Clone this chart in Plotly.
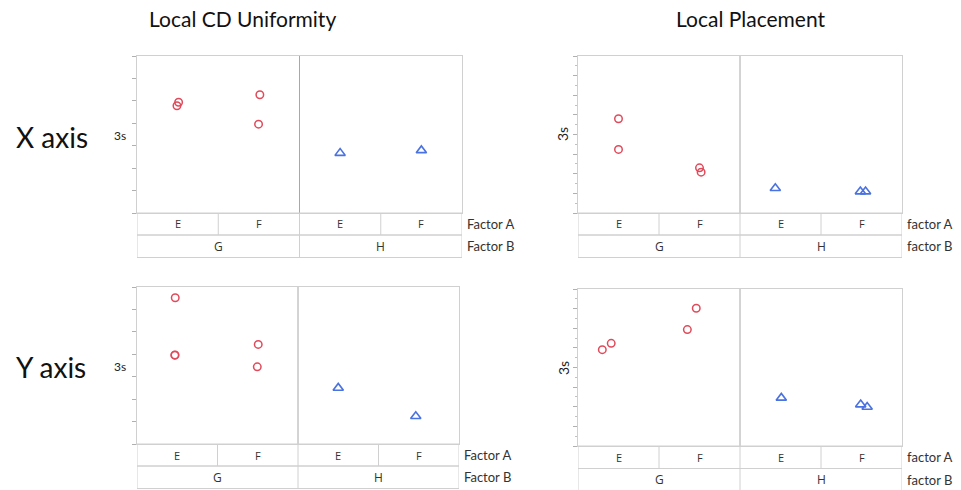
import plotly.graph_objects as go

# ---------------- data ----------------
factor_a_levels = ["E", "F"]
factor_b_levels = ["G", "H"]

# Local CD Uniformity, X axis
cdu_x_a = ["E", "E", "F", "F", "E", "F"]
cdu_x_b = ["G", "G", "G", "G", "H", "H"]
cdu_x_3s = [4.78, 4.94, 5.27, 3.96, 2.67, 2.79]

# Local CD Uniformity, Y axis
cdu_y_a = ["E", "E", "E", "F", "F", "E", "F"]
cdu_y_b = ["G", "G", "G", "G", "G", "H", "H"]
cdu_y_3s = [6.52, 3.96, 3.97, 4.44, 3.44, 2.50, 1.24]

# Local Placement, X axis
lp_x_a = ["E", "E", "F", "F", "E", "F", "F"]
lp_x_b = ["G", "G", "G", "G", "H", "H", "H"]
lp_x_3s = [4.80, 3.24, 2.30, 2.08, 1.26, 1.09, 1.09]

# Local Placement, Y axis
lp_y_a = ["E", "E", "F", "F", "E", "F", "F"]
lp_y_b = ["G", "G", "G", "G", "H", "H", "H"]
lp_y_3s = [4.91, 5.23, 5.93, 7.02, 2.45, 2.11, 1.99]

col_titles = ["Local CD Uniformity", "Local Placement"]
row_titles = ["X axis", "Y axis"]

# ---------------- layout helpers ----------------
W, H = 961, 490


def px(x):
    return x / W


def py(y):
    return 1 - y / H


# small horizontal jitter so coincident points stay visible
JITTER = {
    "cdu_x": [-0.008, 0.012, 0.012, -0.004, 0.0, 0.0],
    "cdu_y": [-0.025, -0.03, -0.028, 0.006, -0.006, 0.0, -0.037],
    "lp_x": [0.0, 0.0, 0.0, 0.02, -0.064, -0.014, 0.05],
    "lp_y": [-0.2, -0.09, -0.15, -0.04, 0.01, -0.01, 0.07],
}

# panel geometry in pixels: left, right, top, plot bottom, row A bottom, row B bottom
panels = [
    dict(key="cdu_x", a=cdu_x_a, b=cdu_x_b, v=cdu_x_3s, box=(137, 462, 56, 213, 235, 257.5),
         ymax=7, minor=False, lab_a="Factor A", lab_b="Factor B", ylab=(120, 135, False)),
    dict(key="lp_x", a=lp_x_a, b=lp_x_b, v=lp_x_3s, box=(578, 902, 56, 213, 235, 257.5),
         ymax=8, minor=True, lab_a="factor A", lab_b="factor B", ylab=(563, 134, True)),
    dict(key="cdu_y", a=cdu_y_a, b=cdu_y_b, v=cdu_y_3s, box=(137, 459, 287, 444, 466, 488.5),
         ymax=7, minor=False, lab_a="Factor A", lab_b="Factor B", ylab=(120, 366, False)),
    dict(key="lp_y", a=lp_y_a, b=lp_y_b, v=lp_y_3s, box=(578, 902, 289, 446, 468.5, 491),
         ymax=8, minor=True, lab_a="factor A", lab_b="factor B", ylab=(563, 368, True)),
]

FRAME = "#d0d0d0"
DIVIDER = "#a8a8a8"
RED = "#e04a5a"
BLUE = "#4a72e0"
FONT = "Lato"
LABEL_FONT = "Open Sans"

fig = go.Figure()
layout = dict(
    width=W, height=H,
    margin=dict(l=0, r=0, t=0, b=0),
    paper_bgcolor="white", plot_bgcolor="white",
    showlegend=False,
)
shapes, annotations = [], []


def label(text, xref, x, y, size, family=LABEL_FONT, color="#222222", xanchor="center", angle=0):
    annotations.append(dict(text=text, xref=xref, yref="paper", x=x, y=y,
                            xanchor=xanchor, yanchor="middle", showarrow=False, textangle=angle,
                            font=dict(family=family, size=size, color=color)))


for i, p in enumerate(panels, start=1):
    xa = "x" if i == 1 else f"x{i}"
    ya = "y" if i == 1 else f"y{i}"
    left, right, top, pb, ra, rb = p["box"]

    # place each point in its factor cell
    xs_g, ys_g, xs_h, ys_h = [], [], [], []
    for k, (a, b, v) in enumerate(zip(p["a"], p["b"], p["v"])):
        x = factor_b_levels.index(b) * 2 + factor_a_levels.index(a) + 0.5 + JITTER[p["key"]][k]
        if b == "G":
            xs_g.append(x)
            ys_g.append(v)
        else:
            xs_h.append(x)
            ys_h.append(v)

    fig.add_trace(go.Scatter(
        x=xs_g, y=ys_g, mode="markers", xaxis=xa, yaxis=ya,
        marker=dict(symbol="circle-open", size=7.5, color=RED, line=dict(width=1.5, color=RED)),
    ))
    fig.add_trace(go.Scatter(
        x=xs_h, y=ys_h, mode="markers", xaxis=xa, yaxis=ya,
        marker=dict(symbol="triangle-up-open", size=9, color=BLUE, line=dict(width=1.6, color=BLUE)),
    ))

    xkey = "xaxis" if i == 1 else f"xaxis{i}"
    ykey = "yaxis" if i == 1 else f"yaxis{i}"
    layout[xkey] = dict(
        domain=[px(left), px(right)], range=[0, 4], anchor=ya,
        showticklabels=False, ticks="", showgrid=False, zeroline=False,
        showline=True, mirror=True, linecolor=FRAME, linewidth=1,
    )
    yax = dict(
        domain=[py(pb), py(top)], range=[0, p["ymax"]], anchor=xa,
        showticklabels=False, ticks="outside", ticklen=4, tickwidth=1, tickcolor="#b0b0b0",
        dtick=1, tick0=0, showgrid=False, zeroline=False,
        showline=True, mirror=True, linecolor=FRAME, linewidth=1,
    )
    if p["minor"]:
        yax["minor"] = dict(ticks="outside", ticklen=2, tickcolor="#c0c0c0", dtick=0.5, showgrid=False)
    layout[ykey] = yax

    # group divider inside the plot
    shapes.append(dict(type="line", xref=xa, yref=f"{ya} domain", x0=2, x1=2, y0=0, y1=1,
                       line=dict(color=DIVIDER, width=1)))

    # factor table beneath the plot
    for y0, y1 in [(pb, ra), (ra, rb)]:
        shapes.append(dict(type="rect", xref=xa, yref="paper", x0=0, x1=4, y0=py(y1), y1=py(y0),
                           line=dict(color=FRAME, width=1)))
    for xv in (1, 3):
        shapes.append(dict(type="line", xref=xa, yref="paper", x0=xv, x1=xv, y0=py(ra), y1=py(pb),
                           line=dict(color=FRAME, width=1)))
    shapes.append(dict(type="line", xref=xa, yref="paper", x0=2, x1=2, y0=py(rb), y1=py(pb),
                       line=dict(color=FRAME, width=1)))

    for bi, b in enumerate(factor_b_levels):
        for ai, a in enumerate(factor_a_levels):
            label(a, xa, bi * 2 + ai + 0.5, py((pb + ra) / 2), 11, color="#333333")
        label(b, xa, bi * 2 + 1, py((ra + rb) / 2), 12, color="#333333")

    label(p["lab_a"], "paper", px(right + 3), py((pb + ra) / 2), 13, family=FONT,
          color="#333333", xanchor="left")
    label(p["lab_b"], "paper", px(right + 3), py((ra + rb) / 2), 13, family=FONT,
          color="#333333", xanchor="left")

    lx, ly, rotated = p["ylab"]
    label("3s", "paper", px(lx), py(ly), 14 if rotated else 12, family=FONT,
          angle=-90 if rotated else 0)

# column and row headings
for x_c, t in zip([242, 751], col_titles):
    label(t, "paper", px(x_c), py(18), 21, family=FONT, color="#111111")
for y_c, t in zip([137, 367], row_titles):
    label(t, "paper", px(14), py(y_c), 28, family=FONT, color="#111111", xanchor="left")

layout["shapes"] = shapes
layout["annotations"] = annotations
fig.update_layout(**layout)
fig.write_html("out.html")
